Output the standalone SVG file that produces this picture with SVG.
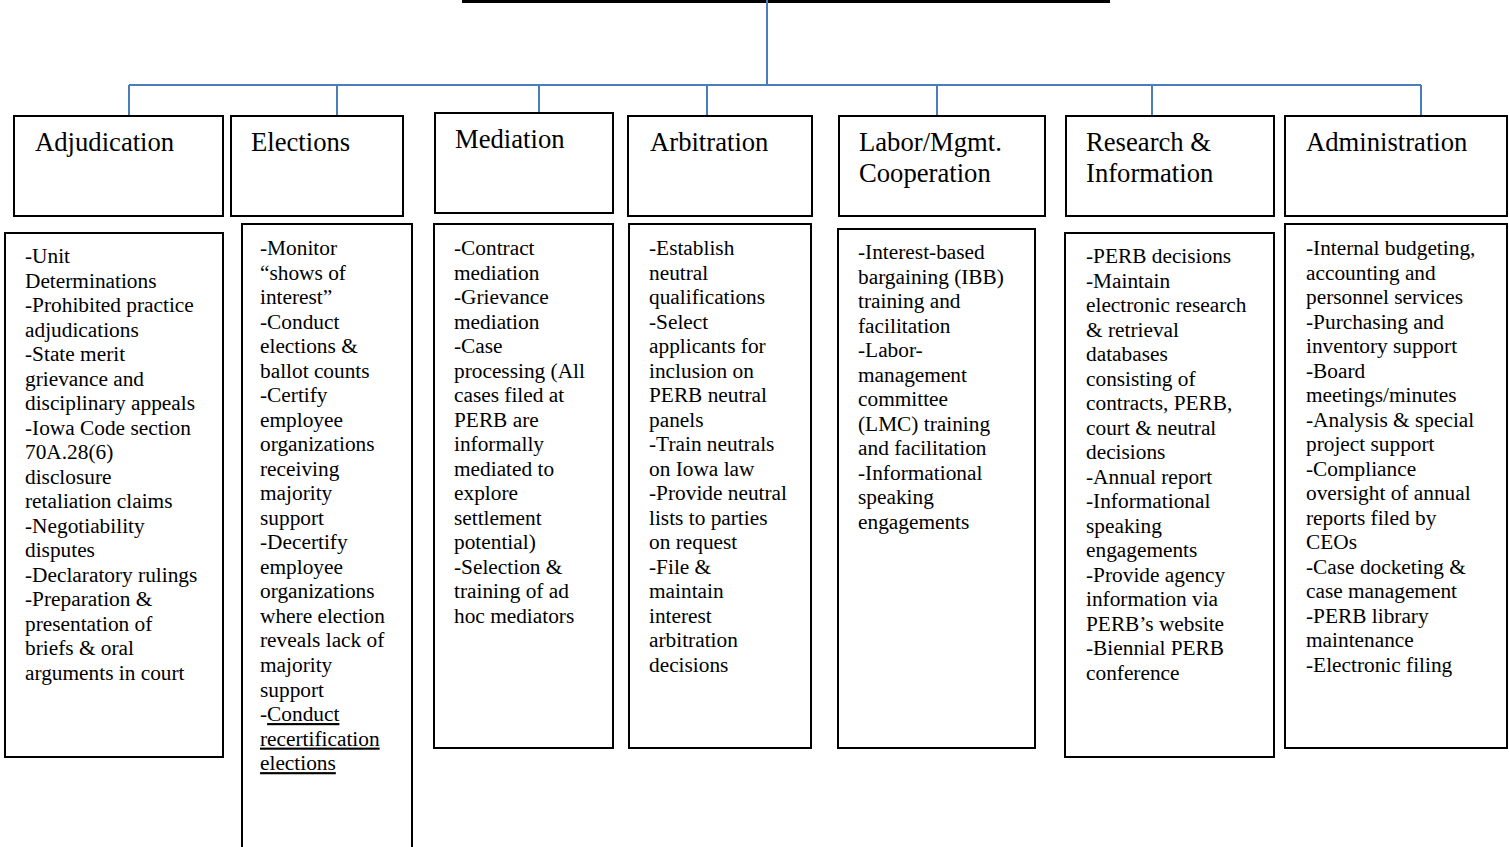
<svg xmlns="http://www.w3.org/2000/svg" width="1509" height="847" viewBox="0 0 1509 847">
<style>
.box{fill:#fff;stroke:#000;stroke-width:2}
.hd{font-family:"Liberation Serif","Times New Roman",serif;font-size:26.67px;fill:#000}
.tx{font-family:"Liberation Serif","Times New Roman",serif;font-size:21.33px;fill:#000}
.con{fill:none;stroke:#4a7ebb;stroke-width:2}
.u{text-decoration:underline}
</style>
<rect width="1509" height="847" fill="#fff"/>
<line x1="462" y1="1.5" x2="1110" y2="1.5" stroke="#000" stroke-width="3"/>
<g id="connectors">
<path class="con" d="M767 0V85M129 85H1421M129 85V116M337 85V116M539 85V113M707 85V116M937 85V116M1152 85V116M1421 85V116"/>
</g>
<g id="adjudication">
<rect class="box" x="14" y="116" width="209" height="100"/>
<text class="hd" x="35" y="151">Adjudication</text>
<rect class="box" x="5" y="233" width="218" height="524"/>
<text class="tx" x="25" y="263"><tspan x="25">-Unit</tspan><tspan x="25" dy="24.53">Determinations</tspan><tspan x="25" dy="24.53">-Prohibited practice</tspan><tspan x="25" dy="24.53">adjudications</tspan><tspan x="25" dy="24.53">-State merit</tspan><tspan x="25" dy="24.53">grievance and</tspan><tspan x="25" dy="24.53">disciplinary appeals</tspan><tspan x="25" dy="24.53">-Iowa Code section</tspan><tspan x="25" dy="24.53">70A.28(6)</tspan><tspan x="25" dy="24.53">disclosure</tspan><tspan x="25" dy="24.53">retaliation claims</tspan><tspan x="25" dy="24.53">-Negotiability</tspan><tspan x="25" dy="24.53">disputes</tspan><tspan x="25" dy="24.53">-Declaratory rulings</tspan><tspan x="25" dy="24.53">-Preparation &amp;</tspan><tspan x="25" dy="24.53">presentation of</tspan><tspan x="25" dy="24.53">briefs &amp; oral</tspan><tspan x="25" dy="24.53">arguments in court</tspan></text>
</g>
<g id="elections">
<rect class="box" x="231" y="116" width="172" height="100"/>
<text class="hd" x="251" y="151">Elections</text>
<rect class="box" x="242" y="224" width="170" height="640"/>
<text class="tx" x="260" y="255"><tspan x="260">-Monitor</tspan><tspan x="260" dy="24.53">“shows of</tspan><tspan x="260" dy="24.53">interest”</tspan><tspan x="260" dy="24.53">-Conduct</tspan><tspan x="260" dy="24.53">elections &amp;</tspan><tspan x="260" dy="24.53">ballot counts</tspan><tspan x="260" dy="24.53">-Certify</tspan><tspan x="260" dy="24.53">employee</tspan><tspan x="260" dy="24.53">organizations</tspan><tspan x="260" dy="24.53">receiving</tspan><tspan x="260" dy="24.53">majority</tspan><tspan x="260" dy="24.53">support</tspan><tspan x="260" dy="24.53">-Decertify</tspan><tspan x="260" dy="24.53">employee</tspan><tspan x="260" dy="24.53">organizations</tspan><tspan x="260" dy="24.53">where election</tspan><tspan x="260" dy="24.53">reveals lack of</tspan><tspan x="260" dy="24.53">majority</tspan><tspan x="260" dy="24.53">support</tspan><tspan x="260" dy="24.53">-</tspan><tspan class="u">Conduct</tspan><tspan x="260" dy="24.53" class="u">recertification</tspan><tspan x="260" dy="24.53" class="u">elections</tspan></text>
</g>
<g id="mediation">
<rect class="box" x="435" y="113" width="178" height="100"/>
<text class="hd" x="455" y="148">Mediation</text>
<rect class="box" x="434" y="224" width="179" height="524"/>
<text class="tx" x="454" y="255"><tspan x="454">-Contract</tspan><tspan x="454" dy="24.53">mediation</tspan><tspan x="454" dy="24.53">-Grievance</tspan><tspan x="454" dy="24.53">mediation</tspan><tspan x="454" dy="24.53">-Case</tspan><tspan x="454" dy="24.53">processing (All</tspan><tspan x="454" dy="24.53">cases filed at</tspan><tspan x="454" dy="24.53">PERB are</tspan><tspan x="454" dy="24.53">informally</tspan><tspan x="454" dy="24.53">mediated to</tspan><tspan x="454" dy="24.53">explore</tspan><tspan x="454" dy="24.53">settlement</tspan><tspan x="454" dy="24.53">potential)</tspan><tspan x="454" dy="24.53">-Selection &amp;</tspan><tspan x="454" dy="24.53">training of ad</tspan><tspan x="454" dy="24.53">hoc mediators</tspan></text>
</g>
<g id="arbitration">
<rect class="box" x="628" y="116" width="184" height="100"/>
<text class="hd" x="650" y="151">Arbitration</text>
<rect class="box" x="629" y="224" width="182" height="524"/>
<text class="tx" x="649" y="255"><tspan x="649">-Establish</tspan><tspan x="649" dy="24.53">neutral</tspan><tspan x="649" dy="24.53">qualifications</tspan><tspan x="649" dy="24.53">-Select</tspan><tspan x="649" dy="24.53">applicants for</tspan><tspan x="649" dy="24.53">inclusion on</tspan><tspan x="649" dy="24.53">PERB neutral</tspan><tspan x="649" dy="24.53">panels</tspan><tspan x="649" dy="24.53">-Train neutrals</tspan><tspan x="649" dy="24.53">on Iowa law</tspan><tspan x="649" dy="24.53">-Provide neutral</tspan><tspan x="649" dy="24.53">lists to parties</tspan><tspan x="649" dy="24.53">on request</tspan><tspan x="649" dy="24.53">-File &amp;</tspan><tspan x="649" dy="24.53">maintain</tspan><tspan x="649" dy="24.53">interest</tspan><tspan x="649" dy="24.53">arbitration</tspan><tspan x="649" dy="24.53">decisions</tspan></text>
</g>
<g id="labor-mgmt">
<rect class="box" x="839" y="116" width="206" height="100"/>
<text class="hd" x="859" y="151"><tspan x="859">Labor/Mgmt.</tspan><tspan x="859" dy="30.7">Cooperation</tspan></text>
<rect class="box" x="838" y="229" width="197" height="519"/>
<text class="tx" x="858" y="259"><tspan x="858">-Interest-based</tspan><tspan x="858" dy="24.53">bargaining (IBB)</tspan><tspan x="858" dy="24.53">training and</tspan><tspan x="858" dy="24.53">facilitation</tspan><tspan x="858" dy="24.53">-Labor-</tspan><tspan x="858" dy="24.53">management</tspan><tspan x="858" dy="24.53">committee</tspan><tspan x="858" dy="24.53">(LMC) training</tspan><tspan x="858" dy="24.53">and facilitation</tspan><tspan x="858" dy="24.53">-Informational</tspan><tspan x="858" dy="24.53">speaking</tspan><tspan x="858" dy="24.53">engagements</tspan></text>
</g>
<g id="research">
<rect class="box" x="1066" y="116" width="208" height="100"/>
<text class="hd" x="1086" y="151"><tspan x="1086">Research &amp;</tspan><tspan x="1086" dy="30.7">Information</tspan></text>
<rect class="box" x="1065" y="233" width="209" height="524"/>
<text class="tx" x="1086" y="263"><tspan x="1086">-PERB decisions</tspan><tspan x="1086" dy="24.53">-Maintain</tspan><tspan x="1086" dy="24.53">electronic research</tspan><tspan x="1086" dy="24.53">&amp; retrieval</tspan><tspan x="1086" dy="24.53">databases</tspan><tspan x="1086" dy="24.53">consisting of</tspan><tspan x="1086" dy="24.53">contracts, PERB,</tspan><tspan x="1086" dy="24.53">court &amp; neutral</tspan><tspan x="1086" dy="24.53">decisions</tspan><tspan x="1086" dy="24.53">-Annual report</tspan><tspan x="1086" dy="24.53">-Informational</tspan><tspan x="1086" dy="24.53">speaking</tspan><tspan x="1086" dy="24.53">engagements</tspan><tspan x="1086" dy="24.53">-Provide agency</tspan><tspan x="1086" dy="24.53">information via</tspan><tspan x="1086" dy="24.53">PERB’s website</tspan><tspan x="1086" dy="24.53">-Biennial PERB</tspan><tspan x="1086" dy="24.53">conference</tspan></text>
</g>
<g id="administration">
<rect class="box" x="1285" y="116" width="222" height="100"/>
<text class="hd" x="1306" y="151">Administration</text>
<rect class="box" x="1285" y="224" width="222" height="524"/>
<text class="tx" x="1306" y="255"><tspan x="1306">-Internal budgeting,</tspan><tspan x="1306" dy="24.53">accounting and</tspan><tspan x="1306" dy="24.53">personnel services</tspan><tspan x="1306" dy="24.53">-Purchasing and</tspan><tspan x="1306" dy="24.53">inventory support</tspan><tspan x="1306" dy="24.53">-Board</tspan><tspan x="1306" dy="24.53">meetings/minutes</tspan><tspan x="1306" dy="24.53">-Analysis &amp; special</tspan><tspan x="1306" dy="24.53">project support</tspan><tspan x="1306" dy="24.53">-Compliance</tspan><tspan x="1306" dy="24.53">oversight of annual</tspan><tspan x="1306" dy="24.53">reports filed by</tspan><tspan x="1306" dy="24.53">CEOs</tspan><tspan x="1306" dy="24.53">-Case docketing &amp;</tspan><tspan x="1306" dy="24.53">case management</tspan><tspan x="1306" dy="24.53">-PERB library</tspan><tspan x="1306" dy="24.53">maintenance</tspan><tspan x="1306" dy="24.53">-Electronic filing</tspan></text>
</g>
</svg>
